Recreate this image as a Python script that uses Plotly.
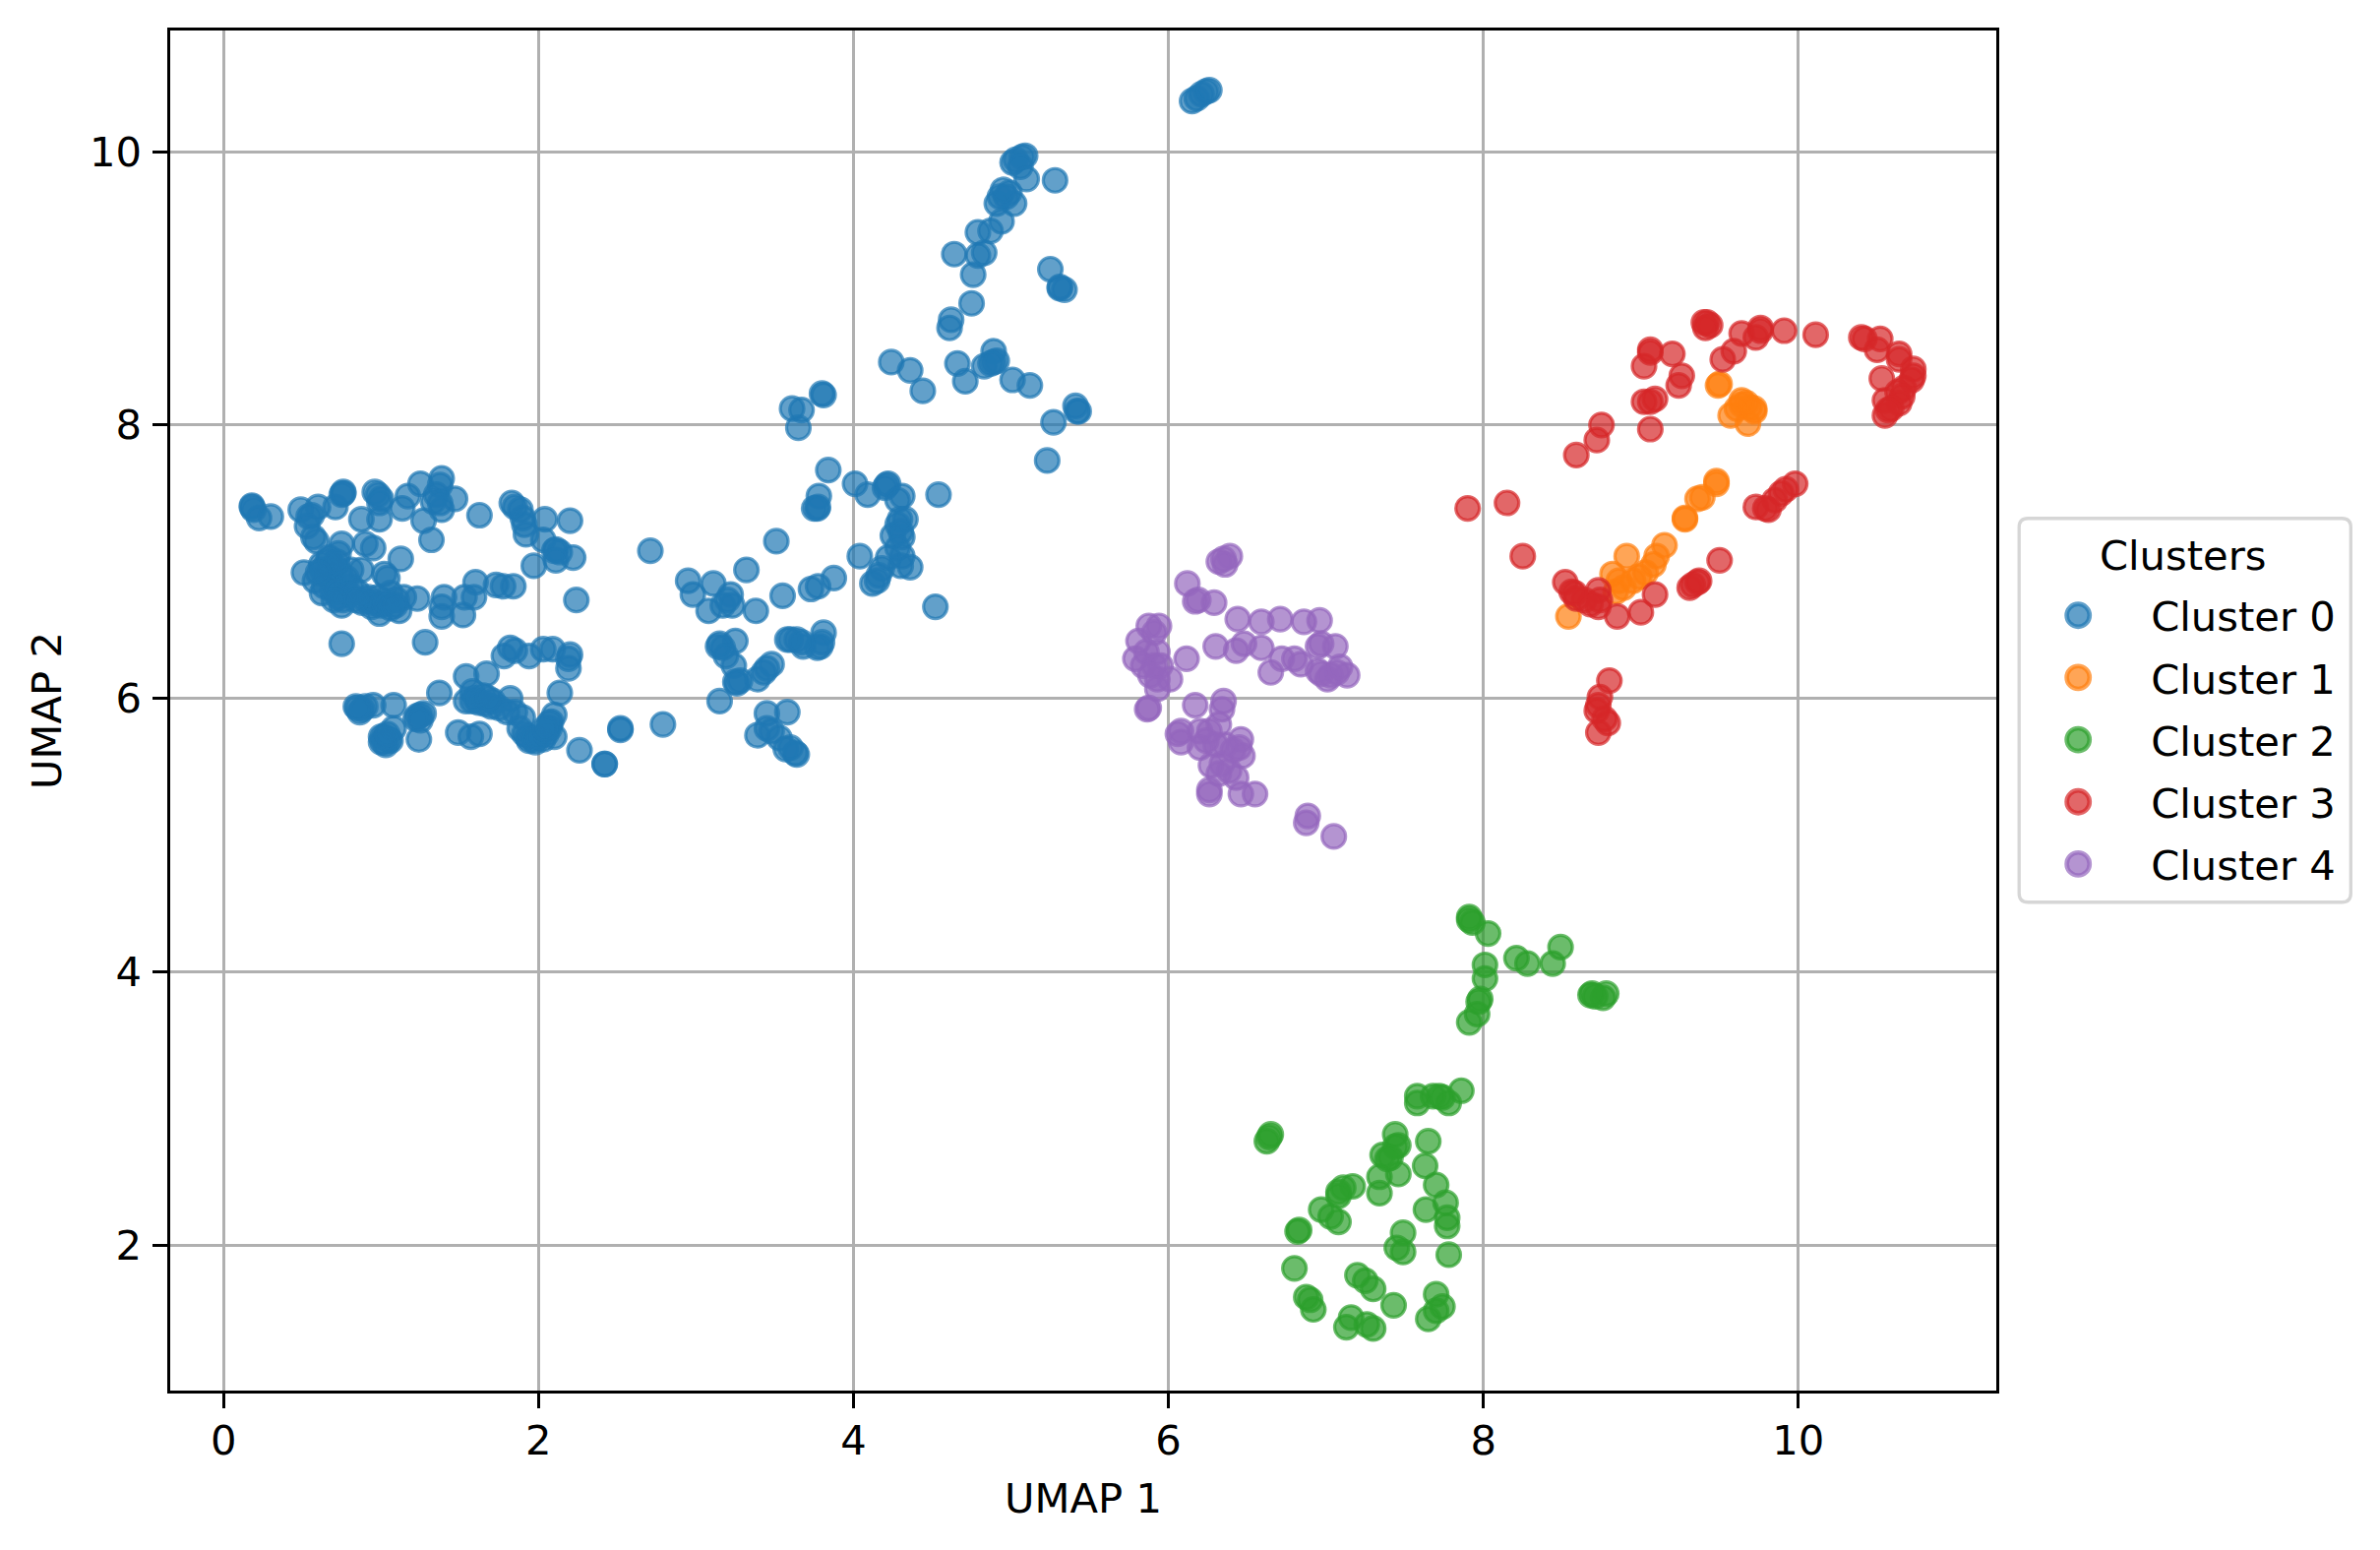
import plotly.graph_objects as go

cluster_names = ["Cluster 0", "Cluster 1", "Cluster 2", "Cluster 3", "Cluster 4"]
cluster_rgb = ["31,119,180", "255,127,14", "44,160,44", "214,39,40", "148,103,189"]

cluster0 = [
 (.18,7.41),(.18,7.40),(.19,7.38),(.225,7.32),(.30,7.33),(.49,7.38),(.60,7.40),(.56,7.34),(.54,7.33),(.53,7.26),
 (.59,7.15),(.57,7.18),(.71,7.40),(.76,7.50),(.76,7.51),(.75,7.49),(.875,7.31),(.96,7.51),(.98,7.49),(1.0,7.46),
 (.99,7.43),(.99,7.31),(.95,7.10),(.90,7.13),(1.125,7.02),(.75,7.13),(1.25,7.57),(1.17,7.48),(1.135,7.39),(1.385,7.61),
 (1.375,7.56),(1.47,7.46),(1.35,7.49),(1.33,7.44),(1.385,7.38),(1.375,7.43),(1.27,7.30),(1.32,7.16),(1.625,7.34),(1.83,7.43),
 (1.85,7.40),(1.885,7.38),(1.90,7.32),(1.92,7.20),(1.91,7.27),(2.04,7.31),(2.20,7.30),(2.03,7.16),(2.11,7.09),(2.135,7.07),
 (2.10,7.08),(2.22,7.03),(2.11,7.01),(1.97,6.97),(2.24,6.72),(2.71,7.08),
 (.51,6.92),(.67,7.03),(.73,7.06),(.625,6.94),(.71,6.96),(.81,6.94),(.875,6.94),(1.02,6.91),(1.04,6.88),(.625,6.77),
 (.69,6.79),(.58,6.86),(.75,6.68),(.73,6.74),(.81,6.82),(.90,6.72),(.94,6.67),(.99,6.62),(.98,6.74),(1.06,6.77),
 (1.115,6.64),(1.10,6.72),(1.145,6.74),(1.23,6.73),(1.40,6.74),(1.385,6.67),(1.385,6.60),(1.52,6.61),(1.53,6.74),(1.59,6.74),
 (1.60,6.85),(1.73,6.83),(1.775,6.82),(1.84,6.82),(.75,6.40),(1.28,6.41),
 (.62,6.98),(.66,6.90),(.70,6.85),(.74,6.92),(.78,6.88),(.68,6.95),(.64,6.82),(.72,6.78),(.76,6.72),(.80,6.76),
 (.85,6.78),(.88,6.70),(.92,6.74),(.95,6.70),(1.00,6.68),(1.03,6.70),(1.06,6.66),(1.09,6.68),(.84,6.72),(.70,6.72),
 (.66,7.0),(.72,7.0),(.60,6.92),
 (1.78,6.31),(1.82,6.37),(1.85,6.35),(1.94,6.31),(2.03,6.36),(2.09,6.36),(2.20,6.32),(2.19,6.29),(2.19,6.22),(2.135,6.04),
 (1.67,6.18),(1.54,6.16),(1.37,6.04),
 (.84,5.94),(.90,5.94),(.95,5.95),(.865,5.90),(1.08,5.95),(1.23,5.87),(1.25,5.88),(1.27,5.89),(1.24,5.70),(1.0,5.72),
 (1.03,5.66),(1.06,5.69),(1.02,5.72),(1.08,5.78),(1.49,5.75),(1.57,5.72),(1.625,5.74),(1.54,5.98),(1.58,6.05),(1.65,6.02),
 (1.71,5.98),(1.82,6.0),(1.85,5.90),(1.90,5.86),(1.91,5.74),(1.94,5.69),(1.98,5.68),(2.03,5.70),(2.10,5.72),(2.08,5.83),
 (2.10,5.88),(2.07,5.78),(2.26,5.62),(2.52,5.78),(2.52,5.77),(2.42,5.52),(2.42,5.52),(2.79,5.81),
 (1.02,5.68),(1.05,5.70),(1.00,5.68),(1.04,5.74),(.88,5.92),(.85,5.93),(1.22,5.85),(1.25,5.84),(1.58,5.98),(1.62,5.97),
 (1.66,5.96),(1.70,5.94),(1.75,5.93),(1.80,5.90),(1.60,6.00),(1.68,6.00),(1.88,5.78),(1.93,5.72),(1.97,5.70),(2.0,5.72),
 (2.05,5.74),(2.07,5.82),(2.04,5.78),
 (3.84,7.67),(4.01,7.57),(4.09,7.49),(3.78,7.48),(3.77,7.39),(3.75,7.39),(3.775,7.40),(4.21,7.56),(4.22,7.57),(4.20,7.54),
 (4.31,7.48),(4.28,7.45),(4.54,7.49),(4.295,7.31),(4.33,7.31),(4.28,7.27),(4.25,7.19),(4.31,7.18),(4.30,7.22),(4.28,7.10),
 (4.31,7.04),(4.04,7.04),(4.36,6.96),(4.30,6.97),(4.22,7.03),(4.18,6.95),(4.16,6.90),(4.12,6.84),(4.15,6.86),(4.52,6.67),
 (3.51,7.15),(3.32,6.94),(2.95,6.86),(2.98,6.76),(3.11,6.84),(3.08,6.64),(3.22,6.76),(3.20,6.72),(3.17,6.68),(3.23,6.68),
 (3.38,6.64),(3.55,6.75),(3.73,6.80),(3.775,6.82),(3.875,6.88),(3.81,6.48),(3.79,6.38),(3.80,6.41),(3.77,6.37),(3.68,6.38),
 (3.64,6.43),(3.60,6.43),(3.58,6.43),(3.67,6.41),(3.25,6.42),(3.15,6.40),(3.17,6.37),(3.14,6.38),(3.19,6.31),(3.24,6.24),
 (3.26,6.11),(3.28,6.13),(3.25,6.12),(3.39,6.14),(3.43,6.19),(3.48,6.25),(3.45,6.22),(3.15,5.98),(3.45,5.89),(3.58,5.90),
 (3.39,5.73),(3.45,5.78),(3.48,5.76),(3.53,5.71),(3.57,5.63),(3.64,5.59),(3.63,5.60),(3.60,5.64),
 (6.15,10.37),(6.18,10.39),(6.21,10.42),(6.24,10.44),(6.26,10.45),(5.09,9.97),(5.03,9.94),(5.01,9.92),(5.07,9.96),(5.06,9.89),
 (5.10,9.80),(5.28,9.79),(4.99,9.70),(4.93,9.67),(4.91,9.62),(5.02,9.62),(4.97,9.67),(4.95,9.72),(4.94,9.49),(4.87,9.42),
 (4.79,9.41),(4.83,9.26),(4.79,9.24),(4.64,9.25),(4.76,9.10),(4.75,8.89),(4.62,8.77),(4.61,8.71),(5.25,9.14),(5.31,9.0),
 (5.34,8.99),(5.31,9.01),(4.24,8.46),(4.36,8.40),(4.44,8.25),(4.66,8.45),(4.71,8.32),(4.83,8.43),(4.89,8.54),(4.89,8.46),
 (4.91,8.47),(4.87,8.45),(5.01,8.33),(5.12,8.29),(5.27,8.02),(5.23,7.74),(5.41,8.14),(5.42,8.10),(5.43,8.10),(3.80,8.23),
 (3.81,8.22),(3.61,8.12),(3.67,8.11),(3.65,7.98),
]
cluster1 = [
 (9.50,8.30),(9.49,8.29),(9.67,8.16),(9.72,8.10),(9.64,8.18),(9.69,8.13),(9.61,8.12),(9.57,8.07),(9.68,8.01),(9.64,8.15),
 (9.72,8.12),(9.48,7.59),(9.48,7.57),(9.39,7.47),(9.36,7.46),(9.28,7.31),(9.28,7.32),(9.15,7.12),(9.10,7.04),(9.08,6.98),
 (9.03,6.92),(8.99,6.89),(8.95,6.86),(8.89,6.81),(8.91,7.04),(8.82,6.91),(8.86,6.86),(8.84,6.78),(8.54,6.60),
]
cluster2 = [
 (7.91,4.38),(7.91,4.40),(7.93,4.36),(8.03,4.28),(8.01,4.05),(8.01,3.95),(7.98,3.80),(7.97,3.78),(7.96,3.69),(7.91,3.63),
 (8.21,4.10),(8.28,4.06),(8.44,4.06),(8.49,4.18),(8.68,3.83),(8.71,3.82),(8.76,3.81),(8.78,3.84),(8.69,3.84),(7.86,3.13),
 (7.78,3.04),(7.74,3.08),(7.72,3.09),(7.68,3.09),(7.58,3.09),(7.58,3.04),(6.65,2.81),(6.625,2.76),(6.64,2.79),(7.44,2.81),
 (7.46,2.73),(7.44,2.72),(7.36,2.66),(7.39,2.63),(7.41,2.64),(7.34,2.50),(7.46,2.52),(7.34,2.38),(7.65,2.76),(7.63,2.58),
 (7.70,2.44),(7.76,2.31),(7.635,2.26),(7.77,2.20),(7.77,2.14),(7.49,2.09),(7.78,1.93),(7.45,1.98),(7.49,1.95),(7.17,2.43),
 (7.11,2.42),(7.08,2.39),(7.08,2.36),(6.97,2.26),(7.03,2.21),(7.08,2.17),(6.83,2.11),(6.82,2.10),(6.80,1.83),(6.875,1.62),
 (6.90,1.60),(6.92,1.53),(7.20,1.78),(7.25,1.74),(7.30,1.68),(7.43,1.56),(7.70,1.64),(7.74,1.55),(7.70,1.52),(7.65,1.46),
 (7.16,1.47),(7.13,1.40),(7.26,1.42),(7.30,1.39),
]
cluster3 = [
 (7.90,7.39),(8.15,7.43),(8.25,7.04),(8.52,6.85),(8.59,7.78),(8.72,7.89),(8.75,8.0),(9.06,7.97),(9.02,8.43),(9.06,8.55),
 (9.06,8.53),(9.20,8.52),(9.26,8.36),(9.24,8.29),(9.02,8.17),(9.06,8.17),(9.09,8.19),(9.40,8.75),(9.42,8.75),(9.44,8.73),
 (9.41,8.71),(9.52,8.48),(9.59,8.54),(9.64,8.67),(9.73,8.64),(9.76,8.71),(9.76,8.69),(9.91,8.69),(10.11,8.66),(10.40,8.64),
 (10.42,8.63),(10.52,8.63),(10.50,8.55),(10.64,8.52),(10.64,8.48),(10.73,8.41),(10.73,8.36),(10.72,8.33),(10.53,8.34),(10.67,8.27),
 (10.63,8.24),(10.66,8.21),(10.55,8.18),(10.64,8.16),(10.59,8.12),(10.55,8.07),(10.57,8.11),(9.98,7.57),(9.92,7.53),(9.89,7.50),
 (9.85,7.45),(9.73,7.40),(9.81,7.38),(9.79,7.39),(9.50,7.01),(9.37,6.86),(9.33,6.83),(9.31,6.81),(9.36,6.85),(9.09,6.76),
 (9.0,6.63),(8.85,6.60),(8.73,6.79),(8.73,6.67),(8.74,6.72),(8.56,6.78),(8.59,6.73),(8.64,6.72),(8.68,6.69),(8.58,6.77),
 (8.80,6.13),(8.74,6.01),(8.73,5.95),(8.72,5.91),(8.79,5.82),(8.77,5.85),(8.73,5.75),
]
cluster4 = [
 (6.35,7.02),(6.39,7.04),(6.32,7.0),(6.36,6.98),(6.12,6.84),(6.17,6.71),(6.19,6.72),(6.29,6.70),(6.44,6.58),(6.59,6.56),
 (6.71,6.58),(6.86,6.56),(6.96,6.57),(6.97,6.40),(6.95,6.38),(7.06,6.38),(6.30,6.38),(6.43,6.35),(6.48,6.40),(6.59,6.37),
 (6.65,6.19),(6.72,6.29),(6.80,6.29),(6.84,6.25),(6.97,6.18),(7.03,6.17),(7.135,6.17),(7.07,6.19),(7.01,6.14),(6.95,6.20),
 (7.09,6.23),(5.875,6.53),(5.94,6.53),(5.91,6.48),(5.81,6.42),(5.79,6.29),(5.86,6.34),(5.93,6.34),(5.84,6.24),(5.91,6.24),
 (5.93,6.14),(5.95,6.24),(5.885,6.17),(6.01,6.14),(6.115,6.29),(5.93,6.07),(5.865,5.92),(5.875,5.93),(6.17,5.95),(6.35,5.98),
 (6.34,5.92),(6.08,5.76),(6.06,5.74),(6.08,5.68),(6.20,5.76),(6.26,5.76),(6.32,5.81),(6.24,5.69),(6.20,5.64),(6.30,5.66),
 (6.46,5.70),(6.45,5.64),(6.47,5.58),(6.41,5.62),(6.36,5.66),(6.27,5.51),(6.34,5.52),(6.385,5.47),(6.32,5.45),(6.43,5.42),
 (6.26,5.33),(6.26,5.30),(6.46,5.30),(6.55,5.30),(6.885,5.14),(6.875,5.09),(7.05,4.99),
]
clusters = [cluster0, cluster1, cluster2, cluster3, cluster4]
x_ticks = [0, 2, 4, 6, 8, 10]
y_ticks = [2, 4, 6, 8, 10]

W, H = 2419, 1575
L, R, T, B = 173.4, 2028.8, 31.2, 1413.3
FONT = dict(family="DejaVu Sans", size=41.67, color="black")

fig = go.Figure()
for name, rgb, pts in zip(cluster_names, cluster_rgb, clusters):
    col = f"rgba({rgb},0.7)"
    fig.add_trace(go.Scatter(
        x=[p[0] for p in pts], y=[p[1] for p in pts], mode="markers", name=name,
        legendgroup=name, hoverinfo="skip",
        marker=dict(size=24, color=col, line=dict(color=col, width=3.2)),
    ))

def px(v): return (v - L) / (R - L)
def py(v): return (B - v) / (B - T)
bx0, bx1, by0, by1, r = 2052, 2389, 527, 917, 9
box = (f"M {px(bx0+r)} {py(by0)} L {px(bx1-r)} {py(by0)} Q {px(bx1)} {py(by0)} {px(bx1)} {py(by0+r)} "
       f"L {px(bx1)} {py(by1-r)} Q {px(bx1)} {py(by1)} {px(bx1-r)} {py(by1)} "
       f"L {px(bx0+r)} {py(by1)} Q {px(bx0)} {py(by1)} {px(bx0)} {py(by1-r)} "
       f"L {px(bx0)} {py(by0+r)} Q {px(bx0)} {py(by0)} {px(bx0+r)} {py(by0)} Z")

axis = dict(showgrid=True, gridcolor="#b0b0b0", gridwidth=3.33, zeroline=False, showline=True,
            mirror=True, linecolor="black", linewidth=3.33, ticks="outside", ticklen=14.6,
            tickwidth=3.33, tickcolor="black", tickfont=FONT)
fig.update_layout(
    width=W, height=H, autosize=False, paper_bgcolor="white", plot_bgcolor="white",
    margin=dict(l=L, r=W - R, t=T, b=H - B, pad=0),
    font=FONT, showlegend=True,
    xaxis=dict(axis, range=[-0.339, 11.257], tickvals=x_ticks, ticktext=[str(v) for v in x_ticks],
               ticklabelstandoff=-3,
               title=dict(text="UMAP 1", font=FONT, standoff=22), automargin=False),
    yaxis=dict(axis, range=[0.936, 10.886], tickvals=y_ticks, ticktext=[str(v) for v in y_ticks],
               ticklabelstandoff=3,
               title=dict(text="UMAP 2", font=FONT, standoff=16), automargin=False),
    legend=dict(x=px(2052), y=py(537.7), xanchor="left", yanchor="top", xref="paper", yref="paper",
                bgcolor="rgba(0,0,0,0)", borderwidth=0, font=FONT, itemwidth=124, tracegroupgap=6,
                title=dict(text="Clusters", side="top center", font=FONT)),
    shapes=[dict(type="path", xref="paper", yref="paper", path=box, fillcolor="white",
                 line=dict(color="#d6d6d6", width=3.33), layer="above")],
)
post = """
document.body.style.margin='0';
document.documentElement.style.overflow='hidden';
document.querySelectorAll('.legendpoints path').forEach(function(p){
  var t=p.getAttribute('transform')||'';
  p.setAttribute('transform','translate(-7,0) '+t+' scale(1.45)');
});
document.querySelectorAll('.legendtitletext').forEach(function(t){
  t.setAttribute('transform','translate(3,-13)');
});
"""
fig.write_html("out.html", post_script=post, config={"displayModeBar": False})
